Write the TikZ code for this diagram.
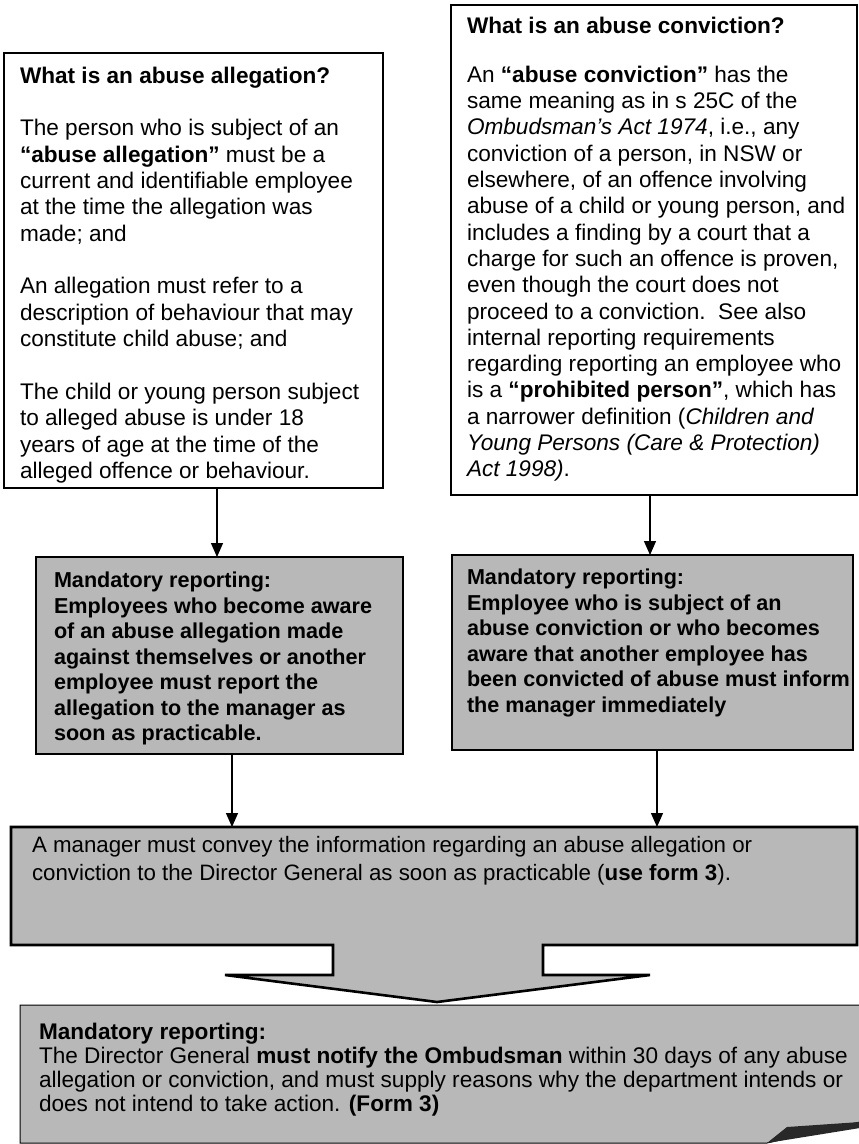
\documentclass[tikz,border=0pt]{standalone}
\usepackage{fontspec}
\setmainfont{Liberation Sans}
\usetikzlibrary{arrows.meta}
\definecolor{shade}{RGB}{184,184,184}
\definecolor{folddark}{RGB}{40,40,40}
\newcommand{\topfont}{\fontsize{22.6pt}{26.33pt}\selectfont}
\newcommand{\shadefont}{\fontsize{21.6pt}{25.5pt}\selectfont\bfseries}
\newcommand{\calloutfont}{\fontsize{22.3pt}{28pt}\selectfont}
\newcommand{\bottomfont}{\fontsize{22.6pt}{24pt}\selectfont}
\newcommand{\fstr}{\rule{0pt}{0.92em}}
\begin{document}
\begin{tikzpicture}[x=1pt,y=-1pt,
  box/.style={draw, line width=1.4pt, inner sep=0pt, outer sep=0pt, anchor=north west},
  sbox/.style={box, fill=shade},
  txt/.style={anchor=north west, inner sep=0pt, outer sep=0pt, align=left},
  arr/.style={line width=1.3pt, -{Triangle[length=14pt,width=12pt]}}]
\useasboundingbox (0,0) rectangle (859,1144);

% top boxes
\node[box, minimum width=379pt, minimum height=435pt] (TL) at (4,53) {};
\node[box, minimum width=406pt, minimum height=490pt] (TR) at (451,5) {};

\node[txt, font=\topfont] (TLt) at (20,62.2) {\fstr\textbf{What is an abuse allegation?}\\[26.5pt]
The person who is subject of an\\
\textbf{“abuse allegation”} must be a\\
current and identifiable employee\\
at the time the allegation was\\
made; and\\[26.5pt]
An allegation must refer to a\\
description of behaviour that may\\
constitute child abuse; and\\[26.5pt]
The child or young person subject\\
to alleged abuse is under 18\\
years of age at the time of the\\
alleged offence or behaviour.};

\node[txt, font=\topfont] (TRt) at (467,12.2) {\fstr\textbf{What is an abuse conviction?}\\[22.7pt]
An \textbf{“abuse conviction”} has the\\
same meaning as in s 25C of the\\
\textit{Ombudsman’s Act 1974}, i.e., any\\
conviction of a person, in NSW or\\
elsewhere, of an offence involving\\
abuse of a child or young person, and\\
includes a finding by a court that a\\
charge for such an offence is proven,\\
even though the court does not\\
proceed to a conviction.\ \ See also\\
internal reporting requirements\\
regarding reporting an employee who\\
is a \textbf{“prohibited person”}, which has\\
a narrower definition (\textit{Children and}\\
\textit{Young Persons (Care \& Protection)}\\
\textit{Act 1998)}.};

% shaded boxes
\node[sbox, minimum width=367pt, minimum height=197pt] (LS) at (36,557) {};
\node[sbox, minimum width=401pt, minimum height=195pt] (RS) at (452,555) {};

\node[txt, font=\shadefont] (LSt) at (54,568.1) {\fstr Mandatory reporting:\\
Employees who become aware\\
of an abuse allegation made\\
against themselves or another\\
employee must report the\\
allegation to the manager as\\
soon as practicable.};

\node[txt, font=\shadefont] (RSt) at (467,565.1) {\fstr Mandatory reporting:\\
Employee who is subject of an\\
abuse conviction or who becomes\\
aware that another employee has\\
been convicted of abuse must inform\\
the manager immediately};

% callout (down arrow)
\node[inner sep=0pt, outer sep=0pt, anchor=north west, minimum width=846pt, minimum height=118pt] (C) at (11,827) {};
\draw[fill=shade, line width=2.6pt, line join=miter]
  (C.north west) -- (C.north east) -- (C.south east) -- (543,945) -- (543,975) -- (650,975)
  -- (437,1002) -- (225,975) -- (333,975) -- (333,945) -- (C.south west) -- cycle;
\node[txt, font=\calloutfont] (Ct) at (32,831.5) {\fstr A manager must convey the information regarding an abuse allegation or\\
conviction to the Director General as soon as practicable (\textbf{use form 3}).};

% bottom box with folded corner
\coordinate (D) at (20,1005);
\draw[fill=shade, line width=1pt] (D) -- (860,1005) -- (860,1122) -- (767,1143) -- (20,1143) -- cycle;
\fill[folddark] (767,1143) -- (787,1127) -- (860,1122) -- (860,1128) -- cycle;
\node[txt, font=\bottomfont] (Dt) at (39,1018.2) {\fstr\textbf{Mandatory reporting:}\\
The Director General \textbf{must notify the Ombudsman} within 30 days of any abuse\\
allegation or conviction, and must supply reasons why the department intends or\\
does not intend to take action. \textbf{(Form 3)}};

% connectors
\draw[arr] ([xshift=23.5pt]TL.south) -- ([xshift=23.5pt]TL.south |- LS.north);
\draw[arr] ([xshift=-4pt]TR.south) -- ([xshift=-4pt]TR.south |- RS.north);
\draw[arr] ([xshift=12.5pt]LS.south) -- ([xshift=12.5pt]LS.south |- C.north);
\draw[arr] ([xshift=4.5pt]RS.south) -- ([xshift=4.5pt]RS.south |- C.north);
\end{tikzpicture}
\end{document}
